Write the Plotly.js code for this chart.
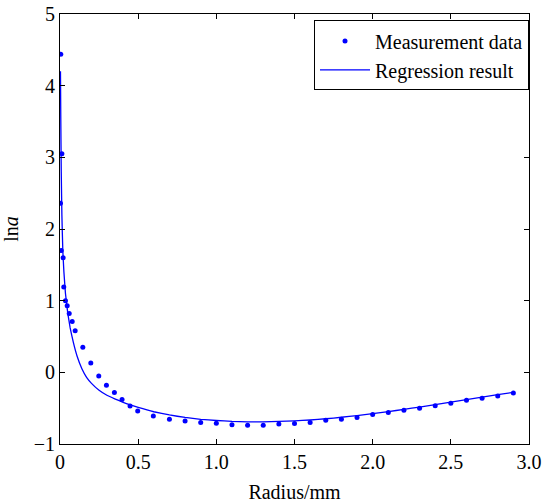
<!DOCTYPE html>
<html>
<head>
<meta charset="utf-8">
<script src="https://cdn.plot.ly/plotly-3.0.1.min.js"></script>
<style>html,body{margin:0;padding:0;background:#fff;}#chart{width:546px;height:504px;}</style>
</head>
<body>
<div id="chart"></div>
<script>
var measX = [0.003, 0.005, 0.012, 0.008, 0.02, 0.024, 0.035, 0.046, 0.059, 0.078, 0.097, 0.146, 0.197, 0.248, 0.297, 0.348, 0.397, 0.448, 0.497, 0.597, 0.70, 0.80, 0.90, 1.00, 1.10, 1.20, 1.30, 1.40, 1.50, 1.60, 1.70, 1.80, 1.90, 2.00, 2.10, 2.20, 2.30, 2.40, 2.50, 2.60, 2.70, 2.80, 2.90];
var measY = [2.36, 4.44, 3.05, 1.70, 1.60, 1.19, 1.00, 0.93, 0.82, 0.71, 0.58, 0.35, 0.13, -0.05, -0.18, -0.28, -0.38, -0.47, -0.54, -0.61, -0.655, -0.68, -0.70, -0.71, -0.73, -0.74, -0.74, -0.72, -0.715, -0.70, -0.67, -0.655, -0.63, -0.59, -0.56, -0.53, -0.50, -0.465, -0.43, -0.39, -0.36, -0.33, -0.29];
var regX = [0.003, 0.005, 0.008, 0.012, 0.018, 0.025, 0.035, 0.05, 0.065, 0.085, 0.11, 0.14, 0.17, 0.2, 0.25, 0.3, 0.35, 0.4, 0.45, 0.5, 0.6, 0.7, 0.8, 0.9, 1.0, 1.1, 1.2, 1.3, 1.4, 1.5, 1.6, 1.7, 1.8, 1.9, 2.0, 2.1, 2.2, 2.3, 2.4, 2.5, 2.6, 2.7, 2.8, 2.9];
var regY = [4.2, 3.55, 2.8, 2.2, 1.7, 1.4, 1.1, 0.82, 0.62, 0.42, 0.22, 0.05, -0.07, -0.15, -0.25, -0.32, -0.37, -0.415, -0.455, -0.49, -0.55, -0.595, -0.63, -0.655, -0.672, -0.684, -0.69, -0.69, -0.685, -0.677, -0.665, -0.648, -0.627, -0.603, -0.577, -0.548, -0.517, -0.484, -0.45, -0.415, -0.38, -0.345, -0.31, -0.28];
var xTickVals = [0, 0.5, 1.0, 1.5, 2.0, 2.5, 3.0];
var xTickText = ["0", "0.5", "1.0", "1.5", "2.0", "2.5", "3.0"];
var yTickVals = [-1, 0, 1, 2, 3, 4, 5];
var yTickText = ["\u22121", "0", "1", "2", "3", "4", "5"];

var FAM = 'Liberation Serif, Times New Roman, serif';
var traces = [
  {x: measX, y: measY, mode: 'markers', type: 'scatter', name: 'Measurement data',
   marker: {color: '#0000ff', size: 5}},
  {x: regX, y: regY, mode: 'lines', type: 'scatter', name: 'Regression result',
   line: {color: '#0000ff', width: 1.3, shape: 'spline', smoothing: 0.3}}
];
var axisCommon = {
  showline: true, linecolor: '#000', linewidth: 1, mirror: 'ticks',
  ticks: 'inside', ticklen: 5, tickcolor: '#000', tickwidth: 1,
  showgrid: false, zeroline: false,
  tickfont: {family: FAM, size: 20, color: '#000'}
};
var layout = {
  width: 546, height: 504,
  margin: {l: 60, r: 17, t: 14, b: 60},
  paper_bgcolor: '#fff', plot_bgcolor: '#fff',
  font: {family: FAM, color: '#000', size: 20},
  showlegend: true,
  legend: {x: 1, xanchor: 'right', y: 0.985, yanchor: 'top',
           bordercolor: '#000', borderwidth: 1, bgcolor: '#fff',
           itemwidth: 50,
           font: {family: FAM, size: 20, color: '#000'},
           tracegroupgap: 0},
  xaxis: Object.assign({}, axisCommon, {range: [0, 3], tickvals: xTickVals, ticktext: xTickText,
           title: {text: 'Radius/mm', standoff: 12, font: {family: FAM, size: 20, color: '#000'}}}),
  yaxis: Object.assign({}, axisCommon, {range: [-1, 5], tickvals: yTickVals, ticktext: yTickText,
           title: {text: 'ln<i>a</i>', standoff: 16, font: {family: FAM, size: 20, color: '#000'}}})
};
Plotly.newPlot('chart', traces, layout, {displayModeBar: false, staticPlot: true});
</script>
</body>
</html>
